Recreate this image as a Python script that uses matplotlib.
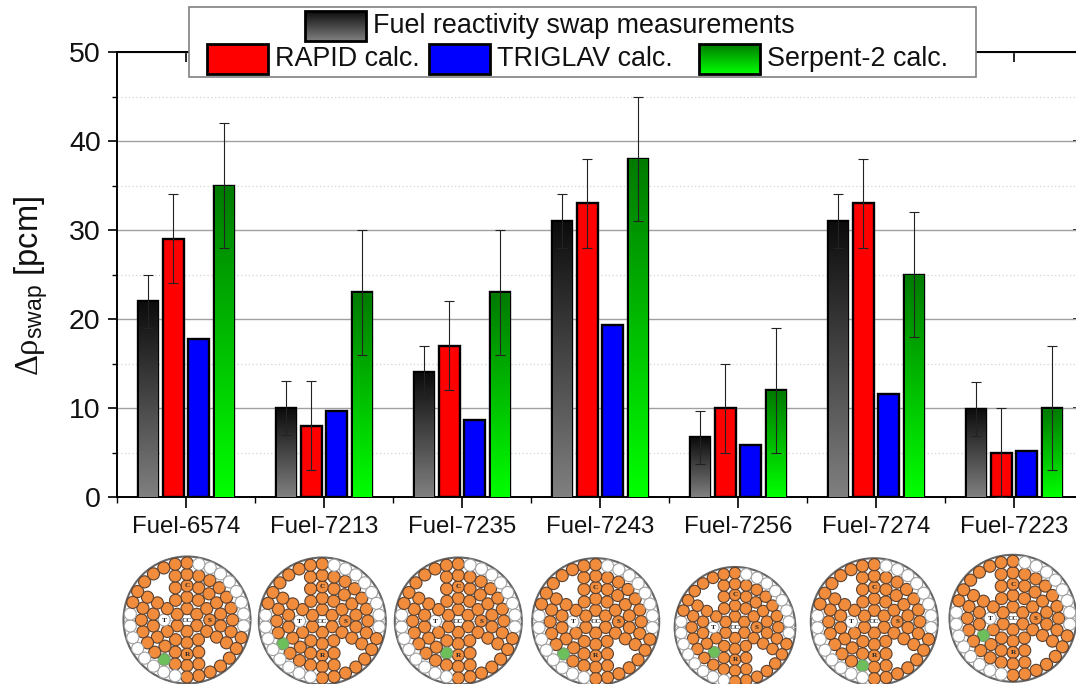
import numpy as np
import matplotlib
matplotlib.use('Agg')
import matplotlib.pyplot as plt
from matplotlib.colors import LinearSegmentedColormap
from matplotlib.patches import Circle, Rectangle

plt.rcParams['font.family'] = ['Liberation Sans', 'DejaVu Sans']
plt.rcParams['mathtext.fontset'] = 'custom'
plt.rcParams['mathtext.rm'] = 'Liberation Serif'
plt.rcParams['mathtext.sf'] = 'Liberation Sans'
plt.rcParams['mathtext.default'] = 'rm'

# ---- data ----
fuels = ['Fuel-6574', 'Fuel-7213', 'Fuel-7235', 'Fuel-7243', 'Fuel-7256', 'Fuel-7274', 'Fuel-7223']
measured = [22, 10, 14, 31, 6.7, 31, 9.9]
measured_err = [3, 3, 3, 3, 3, 3, 3]
rapid = [29, 8, 17, 33, 10, 33, 5]
rapid_err = [5, 5, 5, 5, 5, 5, 5]
triglav = [17.7, 9.7, 8.7, 19.3, 5.8, 11.6, 5.2]
serpent = [35, 23, 23, 38, 12, 25, 10]
serpent_err = [7, 7, 7, 7, 7, 7, 7]

legend_labels = ['Fuel reactivity swap measurements', 'RAPID calc.', 'TRIGLAV calc.', 'Serpent-2 calc.']

# core maps: ring sizes (B..F) and positions clockwise from the top
ring_counts = [6, 12, 18, 24, 30]
ring_f_empty = [1, 2, 3, 4, 5, 6, 7, 8, 16, 17, 18, 19, 20, 21, 22, 23]
ring_e_void = [9, 10, 21, 22]
ring_d_void = [7, 16]
green_ring = [3, 3, 2, 3, 2, 3, 2]     # index into ring_counts (2 = D, 3 = E)
green_index = [14, 16, 10, 15, 11, 13, 12]

# ---- layout (pixels of the 1076x684 figure) ----
W, H = 1076, 684
LEFT, RIGHT, TOP, BOTTOM = 117, 1083, 52, 497
core_cx = [187, 322.3, 458.3, 595.7, 735, 874.3, 1013]
core_cy = [620, 621, 621, 621.7, 627.3, 621.7, 618.3]
core_scale = [1, 1, 1, 1, 0.95, 1, 1]
CORE_R = 63.5
GROUP_PX = (RIGHT - LEFT) / 7

fig = plt.figure(figsize=(W / 100, H / 100), dpi=100)
ax = fig.add_axes([LEFT / W, 1 - BOTTOM / H, (RIGHT - LEFT) / W, (BOTTOM - TOP) / H])

TXT = '#111111'
grey_cmap = LinearSegmentedColormap.from_list('g', ['#0c0c0c', '#808080'])
green_cmap = LinearSegmentedColormap.from_list('gr', ['#007a00', '#00ff00'])
grad = np.linspace(0, 1, 256).reshape(-1, 1)

x = np.arange(1, len(fuels) + 1)
pitch = 25.3 / GROUP_PX
bw = 20.5 / GROUP_PX
dx_in, dy_in = 1.0 / GROUP_PX, 1.0 * 50 / 445

series = [(measured, measured_err, '#444444', grey_cmap, -1.5),
          (rapid, rapid_err, '#ff0000', None, -0.5),
          (triglav, None, '#0000ff', None, 0.5),
          (serpent, serpent_err, '#00b400', green_cmap, 1.5)]

for vals, errs, col, cmap, off in series:
    xs = x + off * pitch
    ax.bar(xs, vals, width=bw, color=col, edgecolor='black', linewidth=1.7, zorder=3)
    if cmap is not None:
        for xi, v in zip(xs, vals):
            ax.imshow(grad, cmap=cmap, aspect='auto', zorder=3.5, interpolation='bilinear',
                      extent=[xi - bw / 2 + dx_in, xi + bw / 2 - dx_in, 0, v - dy_in])
    if errs is not None:
        ax.errorbar(xs, vals, yerr=errs, fmt='none', ecolor='#222222', elinewidth=0.8,
                    capsize=3.6, capthick=0.8, zorder=4)

ax.set_xlim(0.5, 7.5)
ax.set_ylim(0, 50)
ax.set_xticks(x)
ax.set_xticks(np.append(x - 0.5, 7.5), minor=True)
ax.set_xticklabels(fuels, fontsize=17.3, color=TXT)
ax.set_yticks(np.arange(0, 51, 10))
ax.set_yticks(np.arange(5, 50, 10), minor=True)
ax.tick_params(axis='y', which='major', labelsize=20.5, labelcolor=TXT, length=6.2, width=1.2, pad=5.5)
ax.tick_params(axis='y', which='minor', length=3.4, width=1.0)
ax.tick_params(axis='x', which='major', length=7.6, width=1.2, pad=6)
ax.tick_params(axis='x', which='minor', length=4.3, width=1.0)
ax.grid(True, which='major', axis='y', color='#a0a0a0', lw=1.0, zorder=1)
ax.grid(True, which='minor', axis='y', color='#d4d4d4', lw=0.9, ls=(0, (1, 2)), zorder=1)
ax.set_axisbelow(True)
for s in ax.spines.values():
    s.set_linewidth(1.4)

sx = ax.secondary_xaxis('top')
sx.set_xticks(x)
sx.set_xticklabels([])
sx.tick_params(which='major', direction='in', length=7.2, width=1.2)
sx.spines['top'].set_linewidth(1.4)
sy = ax.secondary_yaxis('right')
sy.set_yticks(np.arange(0, 51, 10))
sy.set_yticklabels([])
sy.tick_params(which='major', direction='in', length=7.2, width=1.2)

ax.set_ylabel(r'$\Delta\rho_{\mathsf{swap}}$ [pcm]', fontsize=23.5, color=TXT)
ax.yaxis.set_label_coords((50 - LEFT) / (RIGHT - LEFT), (BOTTOM - 286) / (BOTTOM - TOP))

# ---- legend ----
lg = fig.add_axes([0, 0, 1, 1], zorder=5)
lg.set_xlim(0, W)
lg.set_ylim(H, 0)
lg.axis('off')
lg.add_patch(Rectangle((189, 7), 787, 70, fc='white', ec='#808080', lw=1.2))
LFS = 19.4
handles = [(305, 11, 61, 30, None, grey_cmap, 373, 26),
           (207, 44, 61, 30, '#ff0000', None, 275, 59),
           (429, 44, 61, 30, '#0000ff', None, 497, 59),
           (699, 44, 61, 30, None, green_cmap, 767, 59)]
for (hx, hy, hw, hh, fc, cm, tx, ty), lab in zip(handles, legend_labels):
    lg.add_patch(Rectangle((hx, hy), hw, hh, fc=fc if fc else 'none', ec='black', lw=2.0, zorder=3))
    if cm is not None:
        lg.imshow(grad, cmap=cm, aspect='auto', zorder=2, extent=[hx, hx + hw, hy + hh, hy],
                  interpolation='bilinear')
    lg.text(tx, ty, lab, fontsize=LFS, color=TXT, va='center', ha='left')
lg.set_xlim(0, W)
lg.set_ylim(H, 0)

# ---- core maps ----
ORANGE = '#f08c3c'
PIN_EDGE = '#5a4030'
WHITE_EDGE = '#a0a0a0'
PIN_R = 0.53


def pos(ring, idx):
    a = 2 * np.pi * idx / ring_counts[ring]
    r = ring + 1
    return r * np.sin(a), r * np.cos(a)


def core_map(cx, cy, sc, g_ring, g_idx):
    R = CORE_R * sc
    c = fig.add_axes([(cx - R - 2) / W, 1 - (cy + R + 2) / H, (2 * R + 4) / W, (2 * R + 4) / H], zorder=4)
    lim = (R + 2) / (11.4 * sc)
    c.set_xlim(-lim, lim)
    c.set_ylim(-lim, lim)
    c.axis('off')
    c.patch.set_alpha(0)
    c.add_patch(Circle((0, 0), 63.5 / 11.4, fc='white', ec='#666666', lw=1.5, zorder=1, clip_on=False))
    c.plot([-5.5, 5.5], [0, 0], color='#bbbbbb', lw=0.7, zorder=1.5)

    def pin(xy, fc, ec, lab=None):
        c.add_patch(Circle(xy, PIN_R, fc=fc, ec=ec, lw=0.8, zorder=2))
        if lab:
            c.text(xy[0], xy[1], lab, fontsize=5.2, family='Liberation Serif', fontweight='bold',
                   ha='center', va='center', color='#222222', zorder=3)

    pin((0, 0), 'white', WHITE_EDGE, 'CC')
    for ring, n in enumerate(ring_counts):
        for i in range(n):
            if (ring == 3 and i in ring_e_void) or (ring == 2 and i in ring_d_void):
                continue
            xy = pos(ring, i)
            lab = None
            fc, ec = ORANGE, PIN_EDGE
            if ring == 4 and i in ring_f_empty:
                fc, ec = 'white', WHITE_EDGE
            if ring == 1 and i == 9:
                fc, ec, lab = 'white', WHITE_EDGE, 'T'
            if ring == 1 and i == 3:
                lab = 'S'
            if ring == 2 and i == 0:
                lab = 'C'
            if ring == 2 and i == 9:
                lab = 'R'
            if ring == g_ring and i == g_idx:
                fc, ec = '#6cbf5a', '#7f9a78'
            pin(xy, fc, ec, lab)


for cx, cy, sc, gr, gi in zip(core_cx, core_cy, core_scale, green_ring, green_index):
    core_map(cx, cy, sc, gr, gi)

fig.savefig('out.png', dpi=100)
